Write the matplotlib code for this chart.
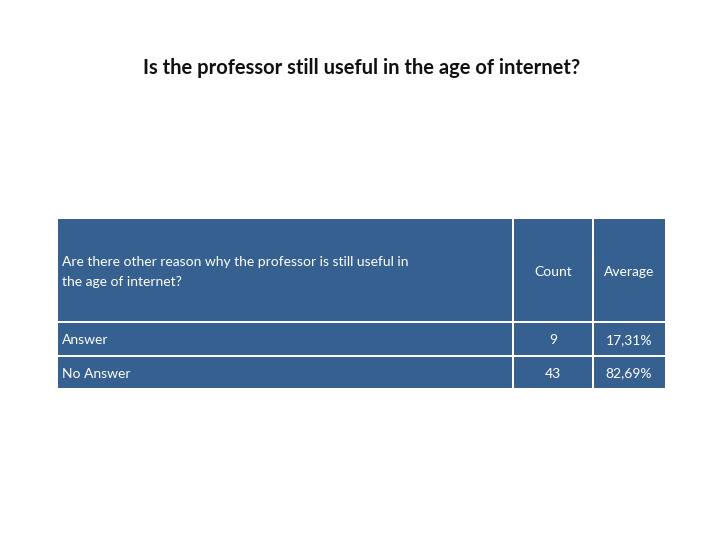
import matplotlib.pyplot as plt
from matplotlib.patches import Rectangle

title = "Is the professor still useful in the age of internet?"
header = ["Are there other reason why the professor is still useful in\nthe age of internet?", "Count", "Average"]
row_labels = ["Answer", "No Answer"]
counts = [9, 43]
averages = ["17,31%", "82,69%"]

plt.rcParams['font.family'] = ['Lato', 'DejaVu Sans']
fig = plt.figure(figsize=(7.2, 5.4), dpi=100)
ax = fig.add_axes([0, 0, 1, 1])
ax.set_xlim(0, 720)
ax.set_ylim(540, 0)
ax.axis("off")

blue = "#36608f"
cols = [(58, 512), (514, 592), (594, 665)]
rows = [(219, 321), (323, 355), (357, 388)]

ax.text(362, 68, title, ha="center", va="center", fontsize=14.5, fontweight="bold", color="#111111")

for r, (y0, y1) in enumerate(rows):
    for c, (x0, x1) in enumerate(cols):
        ax.add_patch(Rectangle((x0, y0), x1 - x0, y1 - y0, facecolor=blue, edgecolor="none"))

# header
ax.text(62, 272, header[0], ha="left", va="center", fontsize=10, color="white", linespacing=1.9)
ax.text(553, 272, header[1], ha="center", va="center", fontsize=10, color="white")
ax.text(629, 272, header[2], ha="center", va="center", fontsize=10, color="white")

for i, (y0, y1) in enumerate(rows[1:]):
    yc = (y0 + y1) / 2 + 1
    ax.text(62, yc, row_labels[i], ha="left", va="center", fontsize=10, color="white")
    ax.text(553, yc, str(counts[i]), ha="center", va="center", fontsize=10, color="white")
    ax.text(629, yc, averages[i], ha="center", va="center", fontsize=10, color="white")

fig.savefig("out.png", dpi=100)
